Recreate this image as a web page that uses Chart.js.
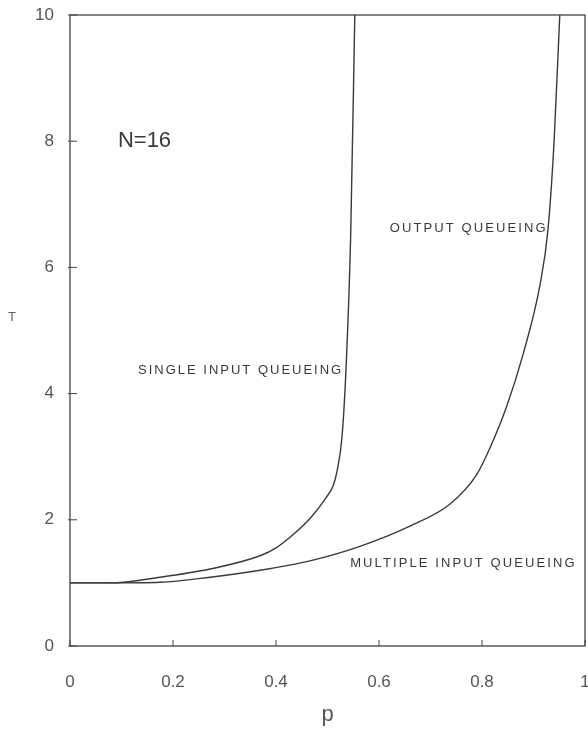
<!DOCTYPE html>
<html>
<head>
<meta charset="utf-8">
<script src="https://cdn.jsdelivr.net/npm/chart.js@4/dist/chart.umd.min.js"></script>
<style>
  html, body { margin: 0; padding: 0; background: #fff; }
  #wrap { width: 588px; height: 732px; }
</style>
</head>
<body>
<div id="wrap"><canvas id="queueChart"></canvas></div>
<script>
// mean waiting time T against load p, N = 16
const singleP = [0, 0.078, 0.175, 0.272, 0.369, 0.401, 0.434, 0.466, 0.498, 0.511, 0.518, 0.528, 0.536, 0.545, 0.553]
const singleT = [1.0, 1.0, 1.09, 1.22, 1.43, 1.56, 1.77, 2.02, 2.36, 2.54, 2.75, 3.3, 4.4, 6.5, 10]

const outputP = [0, 0.078, 0.175, 0.272, 0.369, 0.466, 0.563, 0.66, 0.738, 0.79, 0.816, 0.848, 0.88, 0.913, 0.928, 0.94, 0.951]
const outputT = [1.0, 1.0, 1.01, 1.09, 1.2, 1.35, 1.58, 1.9, 2.25, 2.72, 3.15, 3.8, 4.63, 5.74, 6.59, 8.0, 10]

const xTicks = [0, 0.2, 0.4, 0.6, 0.8, 1]
const yTicks = [0, 2, 4, 6, 8, 10]

// text written inside the plot, placed in data units (left edge, middle)
const notes = [
  { text: 'N=16', p: 0.093, t: 8.0, font: '300 22px "Liberation Sans"', spacing: '0px' },
  { text: 'OUTPUT QUEUEING', p: 0.621, t: 6.61, font: '13px "Liberation Sans"', spacing: '2.1px' },
  { text: 'SINGLE INPUT QUEUEING', p: 0.132, t: 4.37, font: '13px "Liberation Sans"', spacing: '2px' },
  { text: 'MULTIPLE INPUT QUEUEING', p: 0.544, t: 1.31, font: '13px "Liberation Sans"', spacing: '2.1px' }
]

const toPoints = (ps, ts) => ps.map((p, i) => ({ x: p, y: ts[i] }))

// box, inward tick marks, notes and the upright "T"
const frame = {
  id: 'frame',
  afterDatasetsDraw(chart) {
    const { ctx, chartArea: a, scales: { x, y } } = chart
    ctx.save()
    ctx.strokeStyle = '#444'
    ctx.lineWidth = 1.3
    ctx.strokeRect(a.left, a.top, a.right - a.left, a.bottom - a.top)

    ctx.lineWidth = 1
    ctx.beginPath()
    y.ticks.forEach(tk => {
      const py = y.getPixelForValue(tk.value)
      ctx.moveTo(a.left - 2, py)
      ctx.lineTo(a.left + 7, py)
    })
    x.ticks.forEach(tk => {
      const px = x.getPixelForValue(tk.value)
      ctx.moveTo(px, a.bottom)
      ctx.lineTo(px, a.bottom - 6)
    })
    ctx.stroke()

    ctx.fillStyle = '#3a3a3a'
    ctx.textBaseline = 'middle'
    ctx.textAlign = 'left'
    notes.forEach(n => {
      ctx.font = n.font
      ctx.letterSpacing = n.spacing
      ctx.fillText(n.text, x.getPixelForValue(n.p), y.getPixelForValue(n.t))
    })

    ctx.letterSpacing = '0px'
    ctx.font = '13px "Liberation Sans"'
    ctx.fillStyle = '#666'
    ctx.textAlign = 'center'
    ctx.fillText('T', 12, y.getPixelForValue(5.2))
    ctx.restore()
  }
}

const lineStyle = {
  borderColor: '#3a3a3a',
  borderWidth: 1.4,
  pointRadius: 0,
  fill: false,
  cubicInterpolationMode: 'monotone'
}

new Chart(document.getElementById('queueChart'), {
  type: 'line',
  data: {
    datasets: [
      { label: 'Single input queueing', data: toPoints(singleP, singleT), ...lineStyle },
      { label: 'Output / multiple input queueing', data: toPoints(outputP, outputT), ...lineStyle }
    ]
  },
  options: {
    responsive: true,
    maintainAspectRatio: false,
    animation: false,
    layout: { padding: { top: 15, right: 3, left: 0, bottom: 0 } },
    plugins: {
      legend: { display: false },
      tooltip: { enabled: false }
    },
    scales: {
      x: {
        type: 'linear',
        min: 0,
        max: 1,
        afterBuildTicks: s => { s.ticks = xTicks.map(v => ({ value: v })) },
        afterFit: s => {
          s.height = 86
          s.paddingLeft = 0
          s.paddingRight = 0
        },
        grid: { display: false },
        border: { display: false },
        ticks: {
          font: { family: 'Liberation Sans', size: 17 },
          color: '#555',
          padding: 18,
          maxRotation: 0,
          callback: v => String(v)
        },
        title: {
          display: true,
          text: 'p',
          font: { family: 'Liberation Sans', size: 22 },
          color: '#555',
          padding: { top: 0, bottom: 4 }
        }
      },
      y: {
        min: 0,
        max: 10,
        afterBuildTicks: s => { s.ticks = yTicks.map(v => ({ value: v })) },
        afterFit: s => {
          s.width = 70
          s.paddingTop = 0
          s.paddingBottom = 0
        },
        grid: { display: false },
        border: { display: false },
        ticks: {
          font: { family: 'Liberation Sans', size: 17 },
          color: '#555',
          padding: 8
        }
      }
    }
  },
  plugins: [frame]
})
</script>
</body>
</html>
